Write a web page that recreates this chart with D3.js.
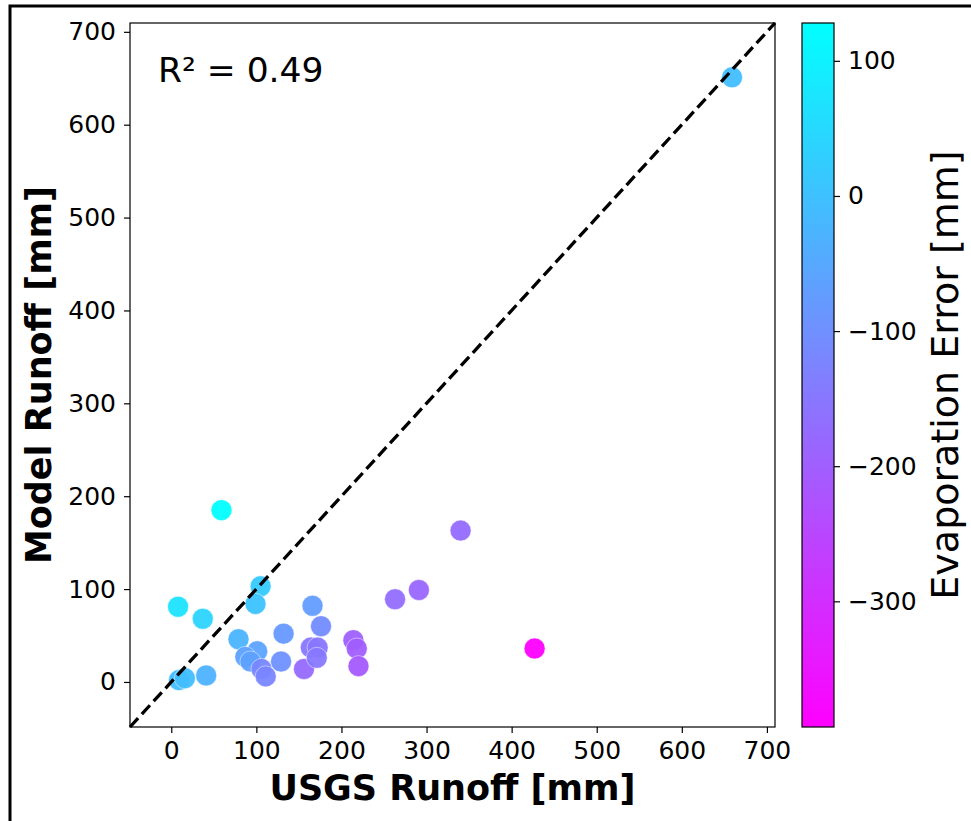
<!DOCTYPE html>
<html>
<head>
<meta charset="utf-8">
<script src="https://cdn.jsdelivr.net/npm/d3@7"></script>
<style>
  html, body { margin: 0; padding: 0; background: #fff; }
  svg { display: block; font-family: "DejaVu Sans", sans-serif; }
</style>
</head>
<body>
<svg id="chart" width="971" height="821"></svg>
<script>
// ---- data ----
const usgsRunoff  = [659, 59, 340, 291, 263, 427, 8, 37, 105, 99, 166, 176, 79, 132, 214, 218, 220, 101, 87, 93, 129, 106, 111, 156, 164, 172, 171, 9, 16, 41];
const modelRunoff = [651, 185, 163, 99, 89, 36, 81, 68, 103, 84, 82, 60, 46, 52, 45, 36, 17, 33, 27, 22, 22, 14, 6, 14, 37, 37, 26, 2, 4, 7];
const evapError   = [-5, 128, -175, -185, -170, -393, 70, 40, 20, 5, -75, -106, -25, -80, -195, -200, -210, -60, -62, -65, -97, -117, -120, -179, -150, -150, -148, -5, -5, -30];
const axisTicks = [0, 100, 200, 300, 400, 500, 600, 700];
const cbarTicks = [100, 0, -100, -200, -300];
const r2Text = "R² = 0.49";
const xLabel = "USGS Runoff [mm]";
const yLabel = "Model Runoff [mm]";
const cbarLabel = "Evaporation Error [mm]";

// ---- layout ----
const svg = d3.select("#chart");
const plot = { left: 130, top: 23, right: 775, bottom: 727 };
const cbar = { left: 802, right: 834 };
const axisDomain = [-48.5, 709.5];
const cDomain = [-393, 128];

// outer frame
svg.append("rect").attr("x", 10).attr("y", 6).attr("width", 1000).attr("height", 900)
  .attr("fill", "none").attr("stroke", "#000").attr("stroke-width", 3);

const x = d3.scaleLinear().domain(axisDomain).range([plot.left, plot.right]);
const y = d3.scaleLinear().domain(axisDomain).range([plot.bottom, plot.top]);
const cScale = d3.scaleLinear().domain(cDomain).range([0, 1]);
const cmap = t => d3.interpolateRgb("#ff00ff", "#00ffff")(t);
const color = v => cmap(cScale(v));

// points
const pts = usgsRunoff.map((d, i) => ({ x: d, y: modelRunoff[i], c: evapError[i] }));
svg.append("g").selectAll("circle").data(pts).join("circle")
  .attr("cx", d => x(d.x)).attr("cy", d => y(d.y)).attr("r", 10.5)
  .attr("fill", d => color(d.c)).attr("fill-opacity", 0.95)
  .attr("stroke", "#fff").attr("stroke-width", 0.8).attr("stroke-opacity", 0.6);

// 1:1 line
svg.append("line")
  .attr("x1", x(axisDomain[0])).attr("y1", y(axisDomain[0]))
  .attr("x2", x(axisDomain[1])).attr("y2", y(axisDomain[1]))
  .attr("stroke", "#000").attr("stroke-width", 3.3).attr("stroke-dasharray", "12,5.5");

// axes
const fmt = d3.format("d");
const xAxis = svg.append("g").attr("transform", `translate(0,${plot.bottom})`)
  .call(d3.axisBottom(x).tickValues(axisTicks).tickFormat(fmt).tickSize(6).tickPadding(8));
const yAxis = svg.append("g").attr("transform", `translate(${plot.left},0)`)
  .call(d3.axisLeft(y).tickValues(axisTicks).tickFormat(fmt).tickSize(6).tickPadding(8));
[xAxis, yAxis].forEach(a => {
  a.select(".domain").remove();
  a.selectAll(".tick line").attr("stroke", "#000").attr("stroke-width", 1.2);
  a.selectAll(".tick text").attr("font-size", 25).attr("fill", "#000")
    .attr("font-family", "DejaVu Sans");
});
// frame
svg.append("rect").attr("x", plot.left).attr("y", plot.top)
  .attr("width", plot.right - plot.left).attr("height", plot.bottom - plot.top)
  .attr("fill", "none").attr("stroke", "#000").attr("stroke-width", 1.2);

// R2 text
svg.append("text").attr("x", 158).attr("y", 82).attr("font-size", 34.5)
  .attr("fill", "#000").text(r2Text);

// axis labels
svg.append("text").attr("x", (plot.left + plot.right) / 2).attr("y", 800)
  .attr("text-anchor", "middle").attr("font-size", 35).attr("font-weight", "bold")
  .attr("fill", "#000").text(xLabel);
svg.append("text").attr("transform", `translate(51,${(plot.top + plot.bottom) / 2}) rotate(-90)`)
  .attr("text-anchor", "middle").attr("font-size", 35).attr("font-weight", "bold")
  .attr("fill", "#000").text(yLabel);

// colorbar
const defs = svg.append("defs");
const grad = defs.append("linearGradient").attr("id", "cgrad")
  .attr("x1", 0).attr("y1", 1).attr("x2", 0).attr("y2", 0);
d3.range(0, 1.0001, 0.1).forEach(t => {
  grad.append("stop").attr("offset", t).attr("stop-color", cmap(t));
});
const cy = d3.scaleLinear().domain(cDomain).range([plot.bottom, plot.top]);
svg.append("rect").attr("x", cbar.left).attr("y", plot.top)
  .attr("width", cbar.right - cbar.left).attr("height", plot.bottom - plot.top)
  .attr("fill", "url(#cgrad)").attr("stroke", "#000").attr("stroke-width", 1.2);
const cAxis = svg.append("g").attr("transform", `translate(${cbar.right},0)`)
  .call(d3.axisRight(cy).tickValues(cbarTicks).tickFormat(fmt).tickSize(6).tickPadding(8));
cAxis.select(".domain").remove();
cAxis.selectAll(".tick line").attr("stroke", "#000").attr("stroke-width", 1.2);
cAxis.selectAll(".tick text").attr("font-size", 25).attr("fill", "#000")
  .attr("font-family", "DejaVu Sans");
svg.append("text").attr("transform", `translate(958,${(plot.top + plot.bottom) / 2}) rotate(-90)`)
  .attr("text-anchor", "middle").attr("font-size", 38)
  .attr("fill", "#000").text(cbarLabel);
</script>
</body>
</html>
